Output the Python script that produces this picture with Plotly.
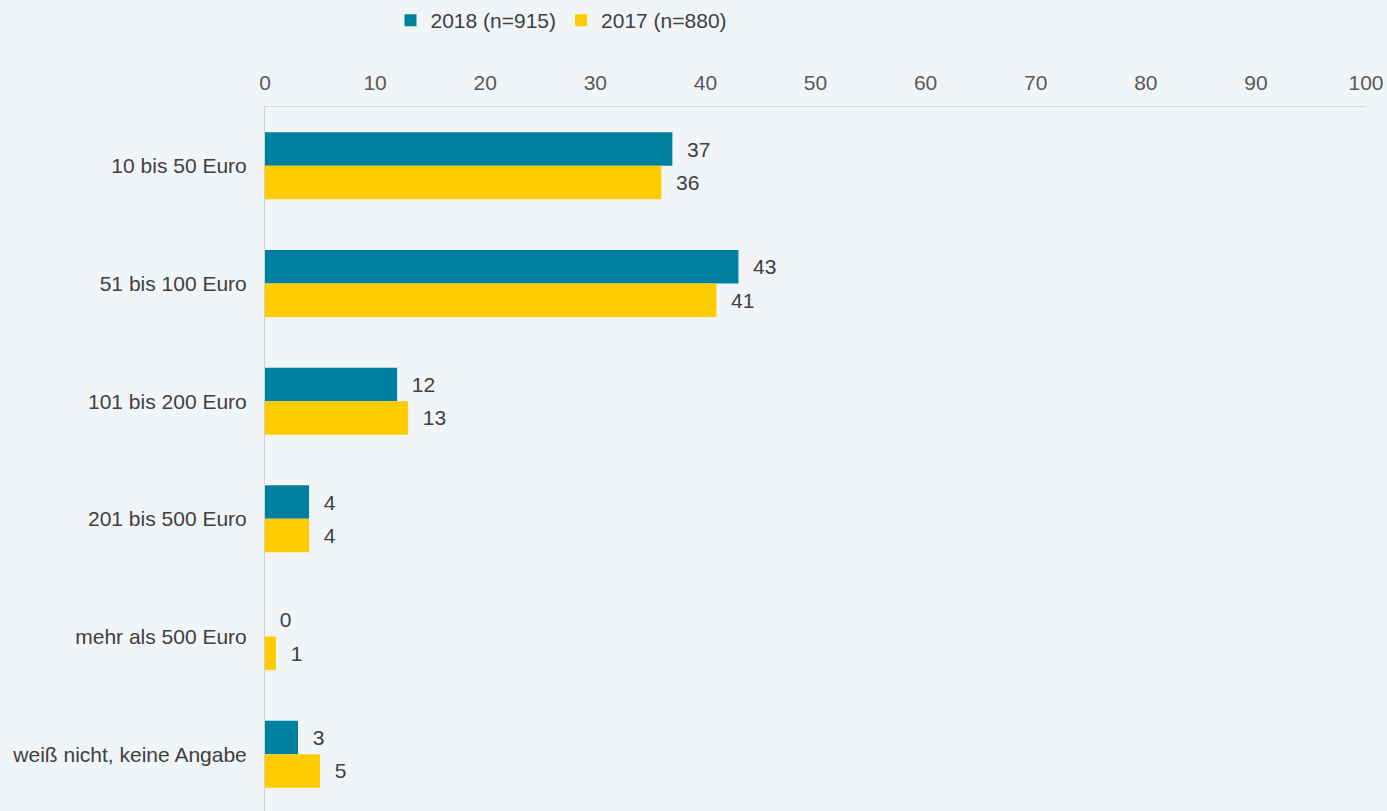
import plotly.graph_objects as go

categories = ["10 bis 50 Euro", "51 bis 100 Euro", "101 bis 200 Euro",
              "201 bis 500 Euro", "mehr als 500 Euro", "weiß nicht, keine Angabe"]
values_2018 = [37, 43, 12, 4, 0, 3]
values_2017 = [36, 41, 13, 4, 1, 5]
series_names = ["2018 (n=915)", "2017 (n=880)"]
x_ticks = [0, 10, 20, 30, 40, 50, 60, 70, 80, 90, 100]

FONT = "Liberation Sans, Arial, sans-serif"
BG = "#f2f5f8"
pad = "\u00a0\u00a0"

fig = go.Figure()
for name, vals, col in [(series_names[0], values_2018, "#00809f"),
                        (series_names[1], values_2017, "#ffcc00")]:
    fig.add_trace(go.Bar(
        y=categories, x=vals, name=name, orientation="h",
        marker=dict(color=col, line=dict(width=0)),
        text=[pad + str(v) for v in vals], textposition="outside",
        textfont=dict(family=FONT, size=21, color="#404040"),
        cliponaxis=False,
    ))

fig.update_layout(
    width=1387, height=813,
    margin=dict(l=265, r=21, t=105, b=0),
    paper_bgcolor=BG, plot_bgcolor=BG,
    barmode="group", bargap=0.43, bargroupgap=0,
    font=dict(family=FONT, size=21, color="#404040"),
    legend=dict(orientation="h", x=0.2693, xanchor="center", y=1.123, yanchor="middle",
                font=dict(family=FONT, size=21, color="#404040"),
                itemwidth=30, bgcolor="rgba(0,0,0,0)"),
    showlegend=True,
)
fig.update_xaxes(side="top", range=[0, 100], tickvals=x_ticks,
                 showgrid=False, zeroline=False, showline=True,
                 linecolor="#d9d9d9", linewidth=1,
                 tickfont=dict(family=FONT, size=21, color="#595959"),
                 ticks="", ticklabelstandoff=8)
fig.update_yaxes(autorange="reversed", showgrid=False, zeroline=False,
                 showline=True, linecolor="#d0d0d0", linewidth=1,
                 tickfont=dict(family=FONT, size=21, color="#404040"),
                 ticks="", ticklabelstandoff=13)

fig.write_html("out.html",
               config={"displayModeBar": False},
               post_script="document.body.style.margin='0';"
                           "document.body.style.background='" + BG + "';"
                           "document.body.style.overflow='hidden';")
